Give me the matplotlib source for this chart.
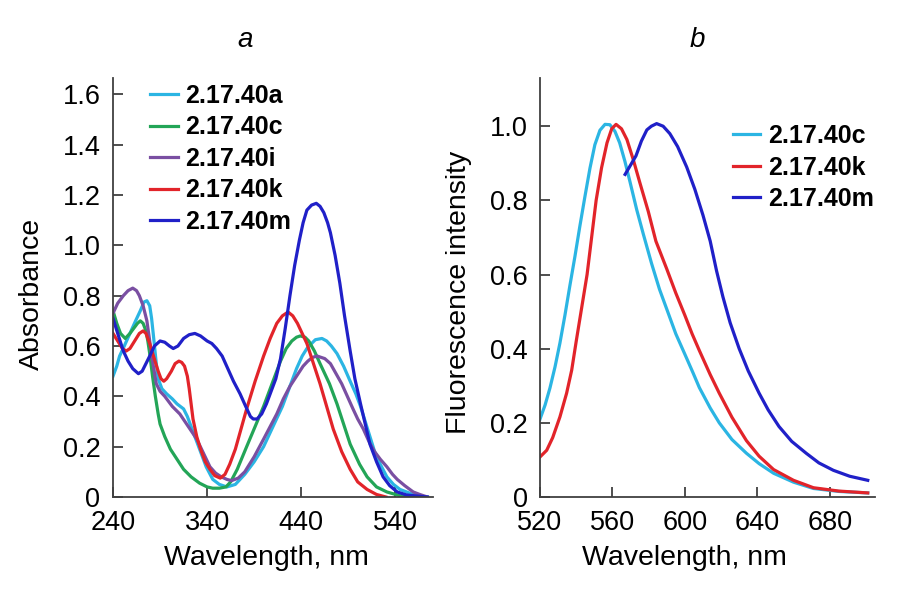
import matplotlib
matplotlib.use("Agg")
import matplotlib.pyplot as plt

plt.rcParams['font.family'] = ['Liberation Sans', 'DejaVu Sans']

# ---- panel a: absorption spectra (wavelength nm, absorbance) ----
wl_40a = [240, 244, 247, 252, 258, 264, 269, 273, 276, 279, 281, 283, 286, 288, 292, 297, 303, 308, 315, 319, 322,
          327, 332, 339, 346, 353, 361, 370, 380, 390, 400, 410, 420, 428, 435, 441, 446, 451, 455, 462, 467, 472,
          478, 485, 492, 498, 503, 508, 513, 518, 524, 531, 538, 545, 552, 562, 574]
abs_40a = [0.48, 0.52, 0.56, 0.60, 0.65, 0.70, 0.74, 0.775, 0.78, 0.76, 0.71, 0.64, 0.53, 0.47, 0.43, 0.41, 0.39,
           0.37, 0.35, 0.32, 0.29, 0.24, 0.19, 0.12, 0.07, 0.05, 0.04, 0.05, 0.09, 0.14, 0.20, 0.28, 0.36, 0.44,
           0.51, 0.56, 0.59, 0.61, 0.625, 0.63, 0.62, 0.60, 0.57, 0.52, 0.46, 0.41, 0.36, 0.30, 0.24, 0.18, 0.13,
           0.08, 0.05, 0.03, 0.02, 0.005, 0.0]

wl_40c = [240, 244, 248, 253, 258, 262, 266, 269, 272, 275, 277, 279, 282, 285, 288, 290, 295, 301, 308, 315, 323,
          332, 340, 346, 353, 360, 365, 372, 382, 391, 400, 409, 418, 424, 430, 435, 439, 444, 448, 454, 460, 465,
          470, 478, 485, 492, 497, 502, 510, 520, 531, 545, 560]
abs_40c = [0.74, 0.69, 0.65, 0.63, 0.65, 0.67, 0.69, 0.70, 0.69, 0.66, 0.62, 0.57, 0.48, 0.40, 0.33, 0.29, 0.24,
           0.19, 0.15, 0.11, 0.08, 0.055, 0.04, 0.035, 0.035, 0.04, 0.06, 0.11, 0.20, 0.28, 0.36, 0.45, 0.54, 0.59,
           0.62, 0.635, 0.64, 0.635, 0.62, 0.58, 0.53, 0.49, 0.45, 0.37, 0.29, 0.21, 0.17, 0.13, 0.08, 0.04, 0.02,
           0.005, 0.0]

wl_40i = [240, 245, 251, 256, 261, 265, 268, 272, 276, 279, 282, 286, 290, 295, 303, 311, 320, 329, 336, 343, 349,
          355, 361, 366, 373, 380, 390, 400, 407, 414, 421, 428, 435, 442, 447, 452, 457, 461, 465, 471, 477, 483,
          489, 495, 500, 506, 512, 518, 524, 531, 537, 542, 550, 559, 566, 574]
abs_40i = [0.73, 0.77, 0.80, 0.82, 0.83, 0.82, 0.80, 0.76, 0.70, 0.62, 0.54, 0.45, 0.42, 0.40, 0.36, 0.33, 0.28,
           0.23, 0.175, 0.12, 0.095, 0.08, 0.07, 0.065, 0.075, 0.10, 0.16, 0.23, 0.28, 0.33, 0.39, 0.44, 0.48,
           0.52, 0.54, 0.555, 0.56, 0.555, 0.55, 0.53, 0.49, 0.45, 0.40, 0.35, 0.31, 0.27, 0.22, 0.18, 0.15, 0.12,
           0.09, 0.07, 0.045, 0.02, 0.01, 0.0]

wl_40k = [240, 245, 250, 254, 258, 263, 268, 272, 275, 279, 283, 288, 291, 294, 297, 302, 306, 310, 313, 316, 319,
          321, 323, 325, 329, 333, 338, 343, 348, 354, 359, 364, 370, 376, 382, 391, 400, 407, 414, 420, 426, 431,
          436, 441, 446, 453, 460, 467, 474, 483, 492, 500, 510, 520, 530]
abs_40k = [0.65, 0.62, 0.59, 0.58, 0.59, 0.62, 0.65, 0.66, 0.65, 0.61, 0.56, 0.50, 0.47, 0.46, 0.47, 0.50, 0.53,
           0.54, 0.535, 0.52, 0.48, 0.43, 0.37, 0.31, 0.24, 0.19, 0.14, 0.11, 0.085, 0.075, 0.09, 0.13, 0.19, 0.27,
           0.35, 0.46, 0.56, 0.63, 0.69, 0.72, 0.735, 0.72, 0.69, 0.65, 0.61, 0.53, 0.45, 0.36, 0.27, 0.18, 0.11,
           0.06, 0.03, 0.01, 0.0]

wl_40m = [240, 245, 251, 256, 261, 267, 271, 275, 279, 284, 290, 295, 300, 304, 309, 315, 321, 327, 333, 340, 345,
          350, 356, 362, 368, 375, 381, 386, 389, 393, 398, 403, 408, 413, 418, 423, 428, 433, 438, 442, 446, 451,
          456, 460, 464, 468, 471, 476, 481, 486, 492, 497, 503, 508, 513, 520, 527, 534, 542, 552, 574]
abs_40m = [0.71, 0.65, 0.58, 0.54, 0.51, 0.49, 0.50, 0.53, 0.56, 0.60, 0.62, 0.615, 0.60, 0.59, 0.60, 0.63, 0.645,
           0.65, 0.64, 0.62, 0.61, 0.59, 0.56, 0.51, 0.46, 0.41, 0.36, 0.32, 0.31, 0.31, 0.33, 0.37, 0.42, 0.47,
           0.55, 0.67, 0.80, 0.92, 1.02, 1.09, 1.14, 1.16, 1.167, 1.155, 1.13, 1.09, 1.05, 0.96, 0.85, 0.72, 0.58,
           0.47, 0.37, 0.29, 0.21, 0.14, 0.08, 0.045, 0.02, 0.008, 0.0]

# ---- panel b: fluorescence spectra (wavelength nm, normalised intensity) ----
wl_f40c = [520, 522.8, 525.5, 528.3, 531, 533.8, 536.5, 539.3, 542, 544.8, 547.6, 550.3, 553.1, 555.9, 558.6,
           561.4, 564, 566.9, 569.7, 573.4, 577, 581.6, 586, 590.8, 595, 600, 604.5, 608, 614, 619, 626, 634, 641,
           649, 660, 671, 685, 701]
fl_40c = [0.21, 0.248, 0.294, 0.351, 0.415, 0.491, 0.57, 0.649, 0.73, 0.81, 0.887, 0.95, 0.989, 1.005, 1.004, 0.986,
          0.955, 0.905, 0.85, 0.775, 0.71, 0.63, 0.56, 0.496, 0.44, 0.385, 0.335, 0.295, 0.24, 0.20, 0.155, 0.118,
          0.09, 0.064, 0.04, 0.023, 0.015, 0.011]

wl_f40k = [520, 523.7, 527, 531, 534.7, 537.5, 540, 543, 546, 548.5, 551, 554, 557, 559.6, 562, 565, 568, 571.5,
           575, 579.8, 584, 590, 595, 600, 604, 608, 614, 619, 626, 634, 641, 649, 660, 671, 685, 701]
fl_40k = [0.108, 0.126, 0.16, 0.216, 0.28, 0.342, 0.42, 0.51, 0.60, 0.70, 0.80, 0.888, 0.955, 0.993, 1.005, 0.993,
          0.964, 0.91, 0.85, 0.77, 0.69, 0.615, 0.55, 0.49, 0.44, 0.395, 0.33, 0.28, 0.215, 0.152, 0.11, 0.074,
          0.045, 0.025, 0.016, 0.011]

wl_f40m = [567, 570, 573, 576, 579, 581.5, 584.4, 588, 591.7, 596, 601, 605.5, 610, 614, 617.5, 621, 625, 630, 635,
           641, 646, 652, 659, 667, 674, 682, 691, 701]
fl_40m = [0.87, 0.895, 0.92, 0.96, 0.99, 1.0, 1.007, 1.0, 0.98, 0.945, 0.89, 0.83, 0.76, 0.69, 0.61, 0.54, 0.47,
          0.40, 0.34, 0.28, 0.235, 0.19, 0.15, 0.118, 0.092, 0.072, 0.056, 0.045]

c_cyan = '#2bb5e3'
c_green = '#23a557'
c_purple = '#7a4fa2'
c_red = '#e2242a'
c_blue = '#2020c8'

fig = plt.figure(figsize=(9, 5.9), dpi=100)
ax1 = fig.add_axes([113 / 900, 93 / 590, 320 / 900, 419 / 590])
ax2 = fig.add_axes([540 / 900, 93 / 590, 335 / 900, 419 / 590])

lw = 2.3
ax1.plot(wl_40a, abs_40a, color=c_cyan, lw=lw, label='2.17.40a')
ax1.plot(wl_40c, abs_40c, color=c_green, lw=lw, label='2.17.40c')
ax1.plot(wl_40i, abs_40i, color=c_purple, lw=lw, label='2.17.40i')
ax1.plot(wl_40k, abs_40k, color=c_red, lw=lw, label='2.17.40k')
ax1.plot(wl_40m, abs_40m, color=c_blue, lw=lw, label='2.17.40m')

ax2.plot(wl_f40c, fl_40c, color=c_cyan, lw=lw, label='2.17.40c')
ax2.plot(wl_f40k, fl_40k, color=c_red, lw=lw, label='2.17.40k')
ax2.plot(wl_f40m, fl_40m, color=c_blue, lw=lw, label='2.17.40m')

ax1.set_xlim(240, 580)
ax1.set_ylim(0, 1.665)
ax1.set_xticks([240, 340, 440, 540])
ax1.set_yticks([0, 0.2, 0.4, 0.6, 0.8, 1.0, 1.2, 1.4, 1.6])
ax1.set_yticklabels(['0', '0.2', '0.4', '0.6', '0.8', '1.0', '1.2', '1.4', '1.6'])

ax2.set_xlim(520, 705)
ax2.set_ylim(0, 1.13)
ax2.set_xticks([520, 560, 600, 640, 680])
ax2.set_yticks([0, 0.2, 0.4, 0.6, 0.8, 1.0])
ax2.set_yticklabels(['0', '0.2', '0.4', '0.6', '0.8', '1.0'])

for ax in (ax1, ax2):
    for s in ('top', 'right'):
        ax.spines[s].set_visible(False)
    for s in ('left', 'bottom'):
        ax.spines[s].set_color('#404040')
        ax.spines[s].set_linewidth(1.3)
    ax.tick_params(direction='in', length=7, width=1.3, color='#404040', labelsize=19.5, pad=9)
    ax.set_xlabel('Wavelength, nm', fontsize=20.5)

ax1.set_ylabel('Absorbance', fontsize=20.5)
ax2.set_ylabel('Fluorescence intensity', fontsize=20.5)
ax1.xaxis.set_label_coords(0.48, -0.114)
ax2.xaxis.set_label_coords(0.43, -0.114)
ax1.yaxis.set_label_coords(-0.2125, 0.485)
ax2.yaxis.set_label_coords(-0.203, 0.488)

leg_kw = dict(frameon=False, handlelength=1.1, handletextpad=0.3, labelspacing=0.3,
              borderpad=0, borderaxespad=0, loc='upper left',
              prop={'weight': 'bold', 'size': 18})
ax1.legend(bbox_to_anchor=(0.116, 0.986), **leg_kw)
ax2.legend(bbox_to_anchor=(0.576, 0.89), **leg_kw)

fig.text(245 / 900, 1 - 40 / 590, 'a', fontsize=20, style='italic', ha='center', va='center')
fig.text(697 / 900, 1 - 40 / 590, 'b', fontsize=20, style='italic', ha='center', va='center')

fig.savefig('out.png', dpi=100)
